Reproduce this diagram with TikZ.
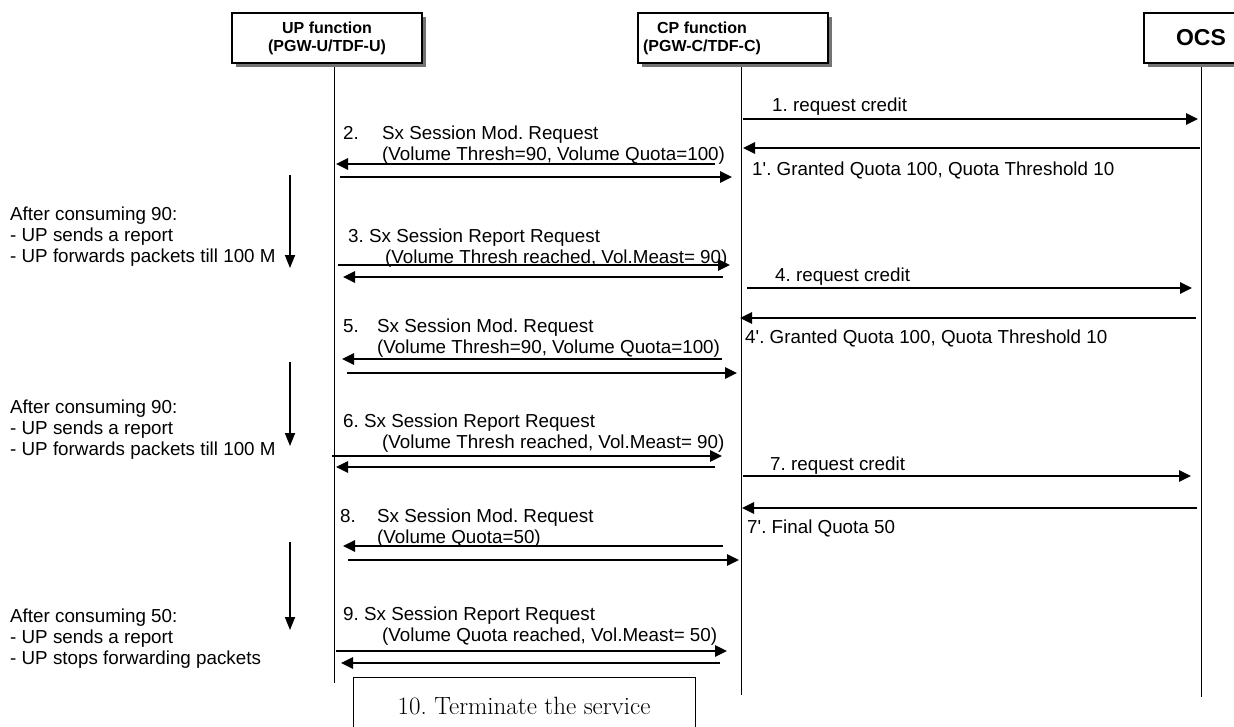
\documentclass[tikz,border=0pt]{standalone}
\usepackage{fontspec}
\setsansfont{Liberation Sans}
\usetikzlibrary{arrows.meta,shadows}
\frenchspacing

\begin{document}
\begin{tikzpicture}[x=1pt, y=-1pt,
        entity/.style={rectangle, draw, line width=1.2pt, fill=white, minimum height=50pt,
            drop shadow={shadow xshift=4pt, shadow yshift=-4pt, fill=black!55, opacity=1}},
        heading/.style={font=\sffamily\bfseries\fontsize{16}{18}\selectfont, align=center},
        lifeline/.style={line width=1pt},
        msg/.style={line width=2.6pt, -{Triangle[length=12pt, width=11pt]}},
        flow/.style={line width=1.8pt, -{Triangle[length=13pt, width=10pt]}},
        msgtext/.style={font=\sffamily\fontsize{18.8}{21}\selectfont, anchor=west, inner sep=0pt, align=left},
        note/.style={font=\sffamily\fontsize{18.8}{21}\selectfont, anchor=west, inner sep=0pt, align=left}
    ]
    \useasboundingbox (0,0) rectangle (1234,726);
    \clip (0,0) rectangle (1234,726);

    \coordinate (u) at (334,63);
    \coordinate (c) at (741,63);
    \coordinate (o) at (1201,63);
    \draw[lifeline] (u) -- (u |- 0,683);
    \draw[lifeline] (c) -- (c |- 0,695);
    \draw[lifeline] (o) -- (o |- 0,697);

    \node[entity, heading, minimum width=190pt] (up) at (327,38) {UP function\\(PGW-U/TDF-U)};
    \node[entity, minimum width=190pt] (cp) at (733,38) {};
    \node[heading] (cpt) at (702,38) {CP function\\(PGW-C/TDF-C)};
    \node[entity, minimum width=114pt, font=\sffamily\bfseries\fontsize{23}{27}\selectfont] (ocs) at (1201,38) {OCS};

    % UP -> CP
    \foreach \y/\s/\e in {177/6/9, 265/4/11, 373/13/4, 456/-2/19, 560/14/2, 651/2/14}
        \draw[msg, shorten <=\s pt, shorten >=\e pt] (u |- 0,\y) -- (c |- 0,\y);
    % CP -> UP
    \foreach \y/\s/\e in {164/26/2, 277/18/9, 359/19/8, 467/26/2, 546/18/9, 663/21/7}
        \draw[msg, shorten <=\s pt, shorten >=\e pt] (c |- 0,\y) -- (u |- 0,\y);
    % CP -> OCS
    \foreach \y/\s/\e in {119/2/3, 288/6/9, 476/2/10}
        \draw[msg, shorten <=\s pt, shorten >=\e pt] (c |- 0,\y) -- (o |- 0,\y);
    % OCS -> CP
    \foreach \y/\s/\e in {148/1/2, 318/5/-1, 508/4/1}
        \draw[msg, shorten <=\s pt, shorten >=\e pt] (o |- 0,\y) -- (c |- 0,\y);

    \node[msgtext] (l1) at (772,107) {1. request credit};
    \node[msgtext] (l1r) at (752,170) {1\textquotesingle. Granted Quota 100, Quota Threshold 10};
    \node[msgtext] (l2) at (343,145) {\makebox[39pt][l]{2.}Sx Session Mod. Request\\\hspace*{39pt}(Volume Thresh=90, Volume Quota=100)};
    \node[msgtext] (l3) at (348,248) {3. Sx Session Report Request\\\hspace*{37pt}(Volume Thresh reached, Vol.Meast= 90)};
    \node[msgtext] (l4) at (775,277) {4. request credit};
    \node[msgtext] (l4r) at (745,338) {4\textquotesingle. Granted Quota 100, Quota Threshold 10};
    \node[msgtext] (l5) at (343,338) {\makebox[34pt][l]{5.}Sx Session Mod. Request\\\hspace*{34pt}(Volume Thresh=90, Volume Quota=100)};
    \node[msgtext] (l6) at (343,433) {6. Sx Session Report Request\\\hspace*{39pt}(Volume Thresh reached, Vol.Meast= 90)};
    \node[msgtext] (l7) at (770,466) {7. request credit};
    \node[msgtext] (l7r) at (747,528) {7\textquotesingle. Final Quota 50};
    \node[msgtext] (l8) at (340,528) {\makebox[37pt][l]{8.}Sx Session Mod. Request\\\hspace*{37pt}(Volume Quota=50)};
    \node[msgtext] (l9) at (343,626) {9. Sx Session Report Request\\\hspace*{39pt}(Volume Quota reached, Vol.Meast= 50)};

    \node[note] (n1) at (10,237) {After consuming 90:\\- UP sends a report\\- UP forwards packets till 100 M};
    \node[note] (n2) at (10,430) {After consuming 90:\\- UP sends a report\\- UP forwards packets till 100 M};
    \node[note] (n3) at (10,639) {After consuming 50:\\- UP sends a report\\- UP stops forwarding packets};
    \draw[flow] (290,175) -- (290,268);
    \draw[flow] (290,362) -- (290,446);
    \draw[flow] (290,542) -- (290,630);

    \node[draw, line width=1pt, minimum width=342pt, minimum height=58pt, anchor=north,
        font=\fontsize{25}{29}\selectfont] (term) at (524,677) {10. Terminate the service};
\end{tikzpicture}
\end{document}
